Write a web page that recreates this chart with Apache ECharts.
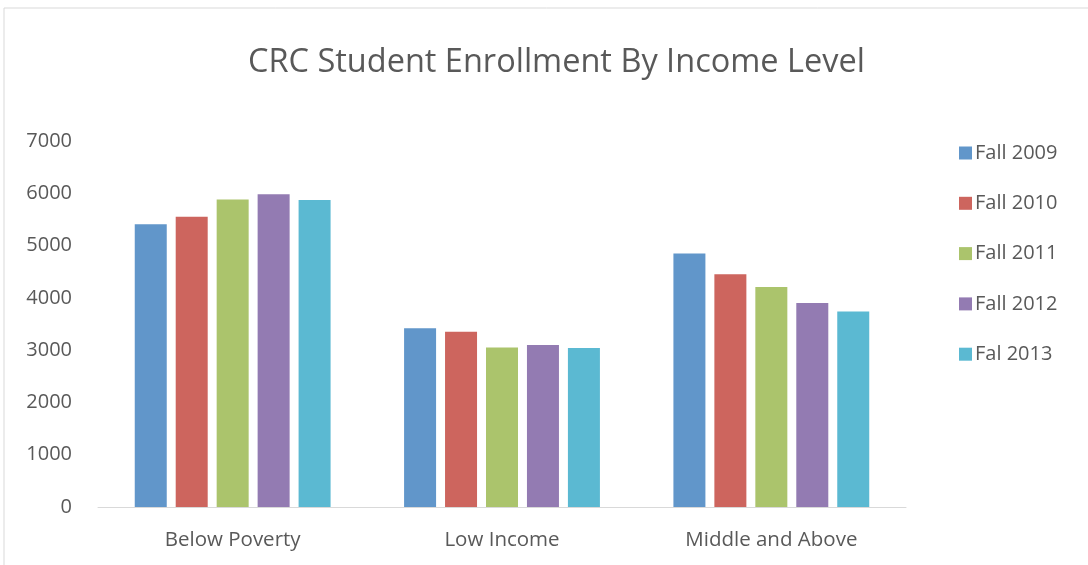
<!DOCTYPE html>
<html>
<head>
<meta charset="utf-8">
<script src="https://cdn.jsdelivr.net/npm/echarts@6/dist/echarts.min.js"></script>
<style>
  html, body { margin: 0; padding: 0; background: #fff; }
  #chart { width: 1088px; height: 565px; }
</style>
</head>
<body>
<div id="chart"></div>
<script>
// income levels on the x axis
const categories = ['Below Poverty', 'Low Income', 'Middle and Above'];

// one list per term
const seriesNames = ['Fall 2009', 'Fall 2010', 'Fall 2011', 'Fall 2012', 'Fal 2013'];
const fall2009 = [5410, 3420, 4850];
const fall2010 = [5550, 3350, 4450];
const fall2011 = [5880, 3050, 4210];
const fall2012 = [5980, 3100, 3900];
const fall2013 = [5870, 3040, 3740];

const colors = ['#6196CA', '#CD655E', '#ABC46C', '#937BB2', '#5BB9D2'];

const chart = echarts.init(document.getElementById('chart'));
const font = "'Open Sans', 'Noto Sans', sans-serif";

const allValues = [fall2009, fall2010, fall2011, fall2012, fall2013];

const option = {
  animation: false,
  color: colors,
  textStyle: { fontFamily: font },
  title: {
    text: 'CRC Student Enrollment By Income Level',
    left: 243,
    top: 41,
    textStyle: { fontFamily: font, fontSize: 32.5, fontWeight: 'normal', color: '#595959' }
  },
  graphic: [{
    type: 'rect',
    shape: { x: 4, y: 8, width: 1100, height: 600 },
    style: { fill: 'none', stroke: '#d9d9d9', lineWidth: 1 },
    silent: true
  }],
  legend: {
    orient: 'vertical',
    left: 954,
    top: 138,
    itemWidth: 13,
    itemHeight: 13,
    itemGap: 30.3,
    icon: 'rect',
    textStyle: { fontFamily: font, fontSize: 20, color: '#595959', padding: [0, 0, 0, -2] },
    data: seriesNames
  },
  grid: {
    left: 98,
    right: 182,
    top: 141,
    bottom: 58
  },
  xAxis: {
    type: 'category',
    data: categories,
    axisTick: { show: false },
    axisLine: { lineStyle: { color: '#d9d9d9', width: 1 } },
    axisLabel: { fontFamily: font, fontSize: 20.5, color: '#595959', margin: 23 }
  },
  yAxis: {
    type: 'value',
    min: 0,
    max: 7000,
    interval: 1000,
    splitLine: { show: false },
    axisLine: { show: false },
    axisTick: { show: false },
    axisLabel: {
      fontFamily: font, fontSize: 20, color: '#595959', margin: 26,
      formatter: v => String(v)
    }
  },
  series: seriesNames.map((name, i) => ({
    name: name,
    type: 'bar',
    barWidth: 32,
    barGap: '28%',
    data: allValues[i]
  }))
};

chart.setOption(option);
</script>
</body>
</html>
